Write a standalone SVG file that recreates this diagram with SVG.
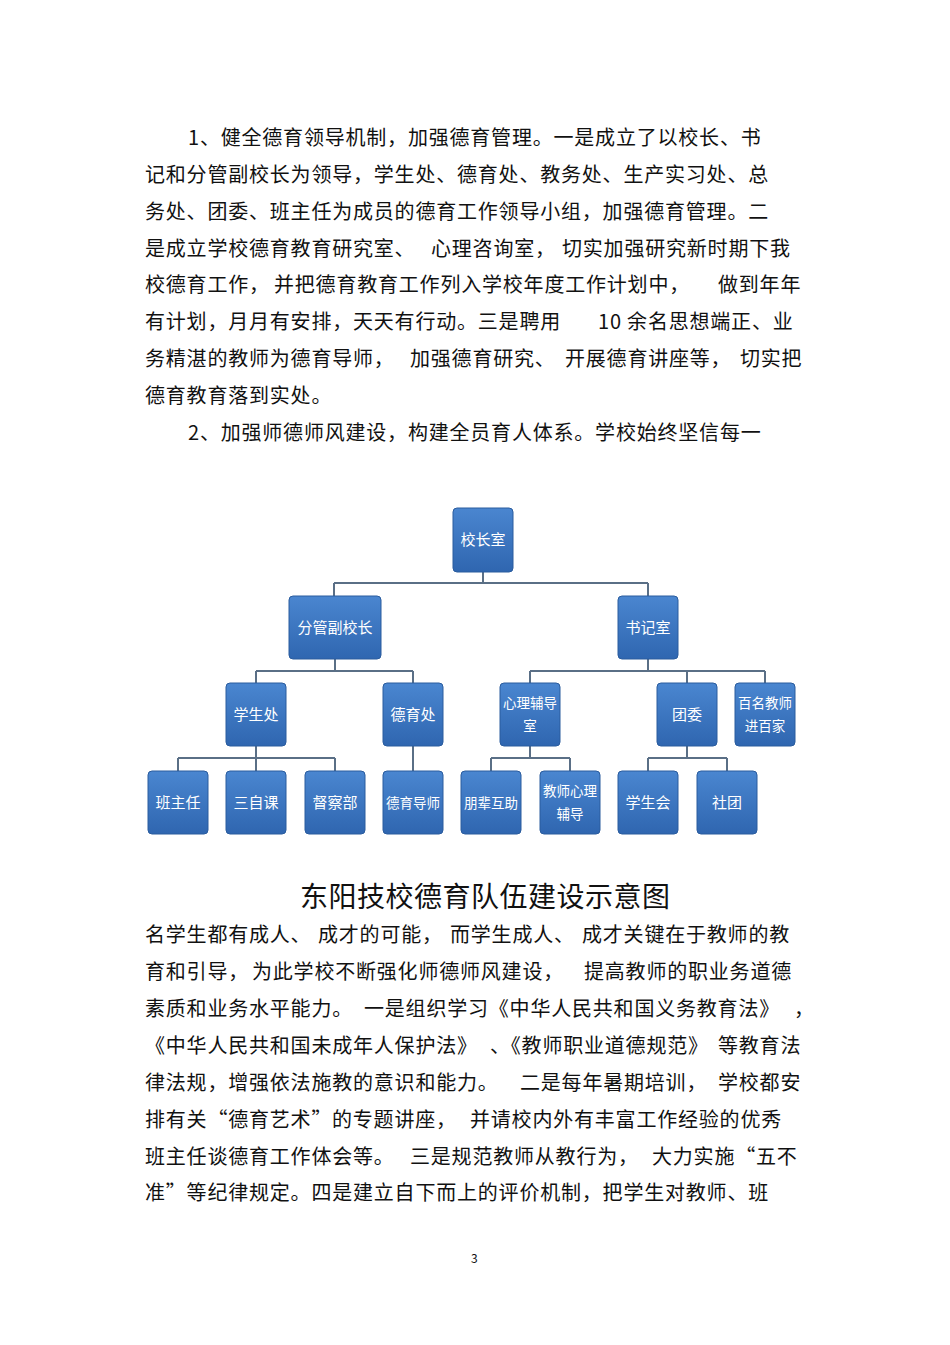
<svg xmlns="http://www.w3.org/2000/svg" width="950" height="1345" viewBox="0 0 950 1345">
<defs>
<linearGradient id="g" x1="0" y1="0" x2="0" y2="1"><stop offset="0" stop-color="#4a86d0"/><stop offset="1" stop-color="#2f66b0"/></linearGradient>
</defs>
<style>
.t{font-family:"Noto Sans CJK SC","Liberation Sans",sans-serif;font-size:20px;fill:#111;letter-spacing:0.8px}
.n rect{fill:url(#g);stroke:#2a5c9e;stroke-width:1}
.n text{font-family:"Noto Sans CJK SC",sans-serif;font-size:15px;fill:#fff;text-anchor:middle}
.n text.s{font-size:13.5px}
.c{stroke:#5a6f86;stroke-width:2;fill:none}
</style>
<rect width="950" height="1345" fill="#fff"/>
<g class="t">
<text x="188" y="145">1、健全德育领导机制，加强德育管理。一是成立了以校长、书</text>
<text x="145" y="182">记和分管副校长为领导，学生处、德育处、教务处、生产实习处、总</text>
<text x="145" y="219">务处、团委、班主任为成员的德育工作领导小组，加强德育管理。二</text>
<text x="145" y="256">是成立学校德育教育研究室、</text><text x="431" y="256">心理咨询室，</text><text x="562" y="256">切实加强研究新时期下我</text>
<text x="145" y="292">校德育工作，</text><text x="274" y="292">并把德育教育工作列入学校年度工作计划中，</text><text x="718" y="292">做到年年</text>
<text x="145" y="329">有计划，月月有安排，天天有行动。三是聘用</text><text x="598" y="329">10 余名思想端正、业</text>
<text x="145" y="366">务精湛的教师为德育导师，</text><text x="410" y="366">加强德育研究、</text><text x="565" y="366">开展德育讲座等，</text><text x="740" y="366">切实把</text>
<text x="145" y="403">德育教育落到实处。</text>
<text x="188" y="440">2、加强师德师风建设，构建全员育人体系。学校始终坚信每一</text>
<text x="300" y="907" style="font-size:28px;letter-spacing:0.5px">东阳技校德育队伍建设示意图</text>
<text x="145" y="942">名学生都有成人、</text><text x="318" y="942">成才的可能，</text><text x="450" y="942">而学生成人、</text><text x="582" y="942">成才关键在于教师的教</text>
<text x="145" y="979">育和引导，</text><text x="252" y="979">为此学校不断强化师德师风建设，</text><text x="584" y="979">提高教师的职业务道德</text>
<text x="145" y="1016">素质和业务水平能力。</text><text x="364" y="1016">一是组织学习《中华人民共和国义务教育法》</text><text x="794" y="1016">，</text>
<text x="145" y="1053">《中华人民共和国未成年人保护法》</text><text x="490" y="1053">、《教师职业道德规范》</text><text x="718" y="1053">等教育法</text>
<text x="145" y="1090">律法规，增强依法施教的意识和能力。</text><text x="520" y="1090">二是每年暑期培训，</text><text x="718" y="1090">学校都安</text>
<text x="145" y="1127">排有关“德育艺术”</text><text x="332" y="1127">的专题讲座，</text><text x="470" y="1127">并请校内外有丰富工作经验的优秀</text>
<text x="145" y="1164">班主任谈德育工作体会等。</text><text x="410" y="1164">三是规范教师从教行为，</text><text x="652" y="1164">大力实施“五不</text>
<text x="145" y="1200">准”等纪律规定。四是建立自下而上的评价机制，把学生对教师、班</text>
<text x="471" y="1263" style="font-size:12px">3</text>
</g>
<g id="connectors" class="c">
<path d="M483 572V583M334 583H648M334 583V596M648 583V596"/>
<path d="M335 659V671M256 671H413M256 671V683M413 671V683"/>
<path d="M648 659V671M530 671H765M530 671V683M687 671V683M765 671V683"/>
<path d="M256 746V758M178 758H335M178 758V771M256 758V771M335 758V771"/>
<path d="M413 746V771"/>
<path d="M530 746V758M491 758H570M491 758V771M570 758V771"/>
<path d="M687 746V758M648 758H727M648 758V771M727 758V771"/>
</g>
<g id="n1" class="n"><rect x="453" y="508" width="60" height="64" rx="4"/><text x="483" y="545">校长室</text></g>
<g id="n2" class="n"><rect x="289" y="596" width="92" height="63" rx="4"/><text x="335" y="633">分管副校长</text></g>
<g id="n3" class="n"><rect x="618" y="596" width="60" height="63" rx="4"/><text x="648" y="633">书记室</text></g>
<g id="n4" class="n"><rect x="226" y="683" width="60" height="63" rx="4"/><text x="256" y="720">学生处</text></g>
<g id="n5" class="n"><rect x="383" y="683" width="60" height="63" rx="4"/><text x="413" y="720">德育处</text></g>
<g id="n6" class="n"><rect x="500" y="683" width="60" height="63" rx="4"/><text class="s" x="530" y="708">心理辅导</text><text class="s" x="530" y="731">室</text></g>
<g id="n7" class="n"><rect x="657" y="683" width="60" height="63" rx="4"/><text x="687" y="720">团委</text></g>
<g id="n8" class="n"><rect x="735" y="683" width="60" height="63" rx="4"/><text class="s" x="765" y="708">百名教师</text><text class="s" x="765" y="731">进百家</text></g>
<g id="n9" class="n"><rect x="148" y="771" width="60" height="63" rx="4"/><text x="178" y="808">班主任</text></g>
<g id="n10" class="n"><rect x="226" y="771" width="60" height="63" rx="4"/><text x="256" y="808">三自课</text></g>
<g id="n11" class="n"><rect x="305" y="771" width="60" height="63" rx="4"/><text x="335" y="808">督察部</text></g>
<g id="n12" class="n"><rect x="383" y="771" width="60" height="63" rx="4"/><text class="s" x="413" y="808">德育导师</text></g>
<g id="n13" class="n"><rect x="461" y="771" width="60" height="63" rx="4"/><text class="s" x="491" y="808">朋辈互助</text></g>
<g id="n14" class="n"><rect x="540" y="771" width="60" height="63" rx="4"/><text class="s" x="570" y="796">教师心理</text><text class="s" x="570" y="819">辅导</text></g>
<g id="n15" class="n"><rect x="618" y="771" width="60" height="63" rx="4"/><text x="648" y="808">学生会</text></g>
<g id="n16" class="n"><rect x="697" y="771" width="60" height="63" rx="4"/><text x="727" y="808">社团</text></g>
</svg>
